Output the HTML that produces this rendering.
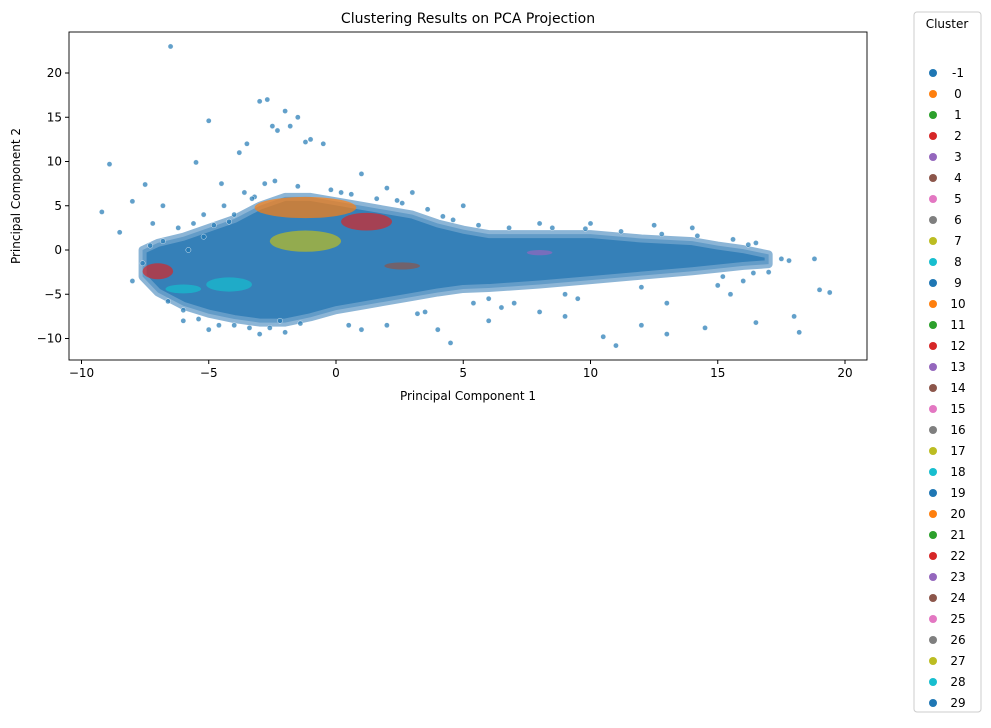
<!DOCTYPE html>
<html><head><meta charset="utf-8"><style>
body{margin:0;background:#fff;font-family:"Liberation Sans","DejaVu Sans",sans-serif;}
svg text{font-family:"DejaVu Sans","Liberation Sans",sans-serif;}
</style></head><body>
<svg id="chart" width="991" height="723" viewBox="0 0 991 723" xmlns="http://www.w3.org/2000/svg">
<rect width="991" height="723" fill="#fff"/>
<text x="468" y="23" font-size="14" text-anchor="middle" fill="#000">Clustering Results on PCA Projection</text>
<g id="plot"></g>
<rect x="69" y="32" width="798" height="328" fill="none" stroke="#000" stroke-width="0.9"/>
<g id="axes"></g>
<text x="468" y="400" font-size="12" text-anchor="middle">Principal Component 1</text>
<text transform="translate(20,196) rotate(-90)" font-size="12" text-anchor="middle">Principal Component 2</text>
<g id="legend">
<rect x="914" y="12" width="67" height="700" rx="3" fill="#fff" stroke="#ccc"/>
<text x="947" y="28" font-size="12" text-anchor="middle">Cluster</text>
</g>
</svg>
<script>
const envX=[-7.6,-7,-6,-5,-4,-3,-2,-1,0,1,2,3,4,5,6,8,10,12,14,15,16,17];
const envUpper=[0,0.8,1.5,2.5,3.5,5,6,6,5.5,5,4.5,4,3,2.3,1.8,1.8,1.8,1.3,1,0.5,0.1,-0.5];
const envLower=[-3,-4.8,-6.3,-7.2,-7.8,-8.2,-8.2,-7.6,-6.8,-6.3,-5.8,-5.3,-4.8,-4.4,-4.3,-3.9,-3.4,-2.9,-2.4,-2.1,-1.8,-1.6];
const outX=[-9.2,-8.9,-6.5,-5,-5.5,-3,-2.7,-2.5,-2,-1.8,-1.5,-1,-0.5,-3.8,-3.5,1,-7.5,-8,-8.5,-8,-5,-3,-2,1,2,4,4.5,6,8,9,10.5,11,12,13,14.5,15.5,16.5,18,18.2,19,19.4,18.8,17.5,16.5,17,12.5,10,8,5,3,2,-4,-6,7,13,15,16,17.8,14,-2.3,-1.2,-6.8,-7.2,-4.5,0.5,3.5,6.5,9.5,
-6.2,-5.6,-5.2,-4.8,-4.4,-4,-3.6,-3.2,-2.8,-2.4,-6.8,-7.3,-6,-5.4,-4.6,-3.4,-2.6,-0.2,0.6,1.6,2.6,3.6,4.6,5.6,6.8,8.5,9.8,11.2,12.8,14.2,15.6,16.2,-5.8,-5.2,-4.2,-3.3,-1.5,0.2,2.4,4.2,6,9,12,15.2,16.4,-7.6,-6.6,-2.2,-1.4,3.2,5.4];
const outY=[4.3,9.7,23,14.6,9.9,16.8,17,14,15.7,14,15,12.5,12,11,12,8.6,7.4,5.5,2,-3.5,-9,-9.5,-9.3,-9,-8.5,-9,-10.5,-8,-7,-7.5,-9.8,-10.8,-8.5,-9.5,-8.8,-5,-8.2,-7.5,-9.3,-4.5,-4.8,-1,-1,0.8,-2.5,2.8,3,3,5,6.5,7,-8.5,-8,-6,-6,-4,-3.5,-1.2,2.5,13.5,12.2,5,3,7.5,-8.5,-7,-6.5,-5.5,
2.5,3,4,2.8,5,4,6.5,6,7.5,7.8,1,0.5,-6.8,-7.8,-8.5,-8.8,-8.8,6.8,6.3,5.8,5.3,4.6,3.4,2.8,2.5,2.5,2.4,2.1,1.8,1.6,1.2,0.6,0,1.5,3.2,5.8,7.2,6.5,5.6,3.8,-5.5,-5,-4.2,-3,-2.6,-1.5,-5.8,-8,-8.3,-7.2,-6,-6.2];
const clusterLabels=["0","2","7","2","8","8","13","14"];
const clusterCx=[-1.2,1.2,-1.2,-7,-4.2,-6,8,2.6];
const clusterCy=[4.8,3.2,1.0,-2.4,-3.9,-4.4,-0.3,-1.8];
const clusterRx=[2.0,1.0,1.4,0.6,0.9,0.7,0.5,0.7];
const clusterRy=[1.2,1.0,1.2,0.9,0.8,0.5,0.3,0.4];
const legendLabels=["-1"];for(let i=0;i<30;i++)legendLabels.push(String(i));
const xTicks=[-10,-5,0,5,10,15,20];
const yTicks=[-10,-5,0,5,10,15,20];
const pal=["#1f77b4","#ff7f0e","#2ca02c","#d62728","#9467bd","#8c564b","#e377c2","#7f7f7f","#bcbd22","#17becf"];
const X=v=>336+v*25.45, Y=v=>250-v*8.85;
const NS="http://www.w3.org/2000/svg";
function mk(t,a,p){const e=document.createElementNS(NS,t);for(const k in a)e.setAttribute(k,a[k]);p.appendChild(e);return e;}
const plot=document.getElementById('plot'),axes=document.getElementById('axes'),leg=document.getElementById('legend');
let d="M"+X(envX[0])+","+Y(envUpper[0]);
for(let i=1;i<envX.length;i++)d+=" L"+X(envX[i])+","+Y(envUpper[i]);
for(let i=envX.length-1;i>=0;i--)d+=" L"+X(envX[i])+","+Y(envLower[i]);
const env=mk('path',{d:d+"Z",fill:"#3580b8",stroke:"#6fa3cc","stroke-width":"8","stroke-linejoin":"round","stroke-opacity":0.8},plot);


for(let i=0;i<outX.length;i++){const c=mk('circle',{cx:X(outX[i]),cy:Y(outY[i]),r:2.6,fill:"#1f77b4","fill-opacity":0.7,stroke:"#fff","stroke-width":0.4},plot);

}
for(let i=0;i<clusterCx.length;i++){const col=pal[(parseInt(clusterLabels[i])+1)%10];const e=mk('ellipse',{cx:X(clusterCx[i]),cy:Y(clusterCy[i]),rx:clusterRx[i]*25.45,ry:clusterRy[i]*8.85,fill:col,"fill-opacity":0.7},plot);

}
xTicks.forEach(t=>{mk('line',{x1:X(t),x2:X(t),y1:360,y2:364,stroke:"#000"},axes);const tx=mk('text',{x:X(t),y:377,"font-size":12,"text-anchor":"middle"},axes);tx.textContent=String(t).replace('-','\u2212');

});
yTicks.forEach(t=>{mk('line',{x1:65,x2:69,y1:Y(t),y2:Y(t),stroke:"#000"},axes);const tx=mk('text',{x:62,y:Y(t)+4,"font-size":12,"text-anchor":"end"},axes);tx.textContent=String(t).replace('-','\u2212');

});
legendLabels.forEach((l,i)=>{const y=73+i*21;const g=mk('g',{},leg);


mk('circle',{cx:933,cy:y,r:4,fill:pal[(parseInt(l)+1)%10]},g);const t=mk('text',{x:958,y:y+4,"font-size":12,"text-anchor":"middle"},g);t.textContent=l;});
</script>
</body></html>
